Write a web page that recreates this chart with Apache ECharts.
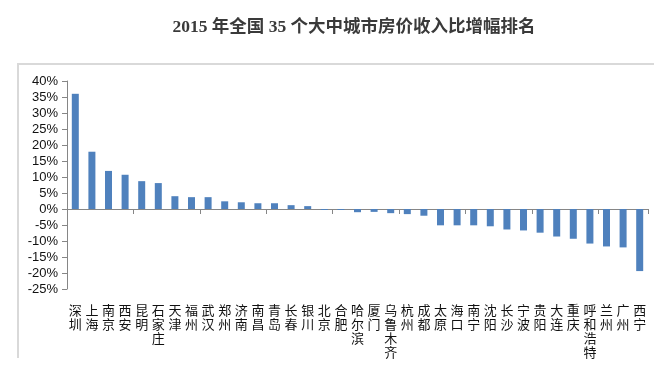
<!DOCTYPE html>
<html>
<head>
<meta charset="utf-8">
<script src="https://cdn.jsdelivr.net/npm/echarts@6/dist/echarts.min.js"></script>
<style>html,body{margin:0;padding:0;background:#fff;}#c{width:668px;height:383px;}</style>
</head>
<body>
<div id="c"></div>
<script>
const titleText = '2015 年全国 35 个大中城市房价收入比增幅排名';
const cities = ['深圳','上海','南京','西安','昆明','石家庄','天津','福州','武汉','郑州','济南','南昌','青岛','长春','银川','北京','合肥','哈尔滨','厦门','乌鲁木齐','杭州','成都','太原','海口','南宁','沈阳','长沙','宁波','贵阳','大连','重庆','呼和浩特','兰州','广州','西宁'];
const growth = [36.0,17.9,11.9,10.7,8.7,8.1,4.0,3.7,3.7,2.4,2.1,1.8,1.8,1.2,0.9,-0.3,-0.3,-1.0,-0.9,-1.3,-1.6,-2.1,-5.1,-5.1,-5.1,-5.4,-6.4,-6.7,-7.4,-8.6,-9.3,-10.8,-11.7,-12.0,-19.4];
const yMin = -25, yMax = 40, yStep = 5;

const chart = echarts.init(document.getElementById('c'));
chart.setOption({
  animation: false,
  backgroundColor: '#fff',
  title: {
    text: titleText,
    left: 349, top: 14, textAlign: 'center',
    textStyle: {fontFamily: 'Liberation Serif, Noto Sans CJK SC', fontSize: 17.5, fontWeight: 'bold', color: '#3a3a3a'}
  },
  graphic: [
    {type: 'polyline', shape: {points: [[18, 358], [18, 64], [654, 64]]}, style: {stroke: '#d9d9d9', lineWidth: 2, fill: null}, silent: true}
  ],
  grid: {left: 67, right: 20, top: 81, bottom: 94},
  xAxis: [
    {
      type: 'category', data: cities, position: 'bottom',
      axisLine: {onZero: true, lineStyle: {color: '#868686', width: 1}},
      axisTick: {show: true, length: 5, lineStyle: {color: '#868686'}},
      axisLabel: {show: false}
    },
    {
      type: 'category', data: cities, position: 'bottom',
      axisLine: {show: false, onZero: false},
      axisTick: {show: false},
      axisLabel: {
        interval: 0, margin: 14, color: '#111', fontSize: 13, lineHeight: 14,
        fontFamily: 'Noto Sans CJK SC', verticalAlign: 'top',
        formatter: v => v.split('').join('\n')
      }
    }
  ],
  yAxis: {
    type: 'value', min: yMin, max: yMax, interval: yStep,
    splitLine: {show: false},
    axisLine: {show: true, lineStyle: {color: '#868686'}},
    axisTick: {show: true, length: 5, lineStyle: {color: '#868686'}},
    axisLabel: {formatter: '{value}%', color: '#111', fontSize: 13, margin: 9, fontFamily: 'Liberation Sans'}
  },
  series: [{
    type: 'bar', data: growth, xAxisIndex: 0, barWidth: 7,
    itemStyle: {color: '#4f81bd'}
  }]
});
</script>
</body>
</html>
